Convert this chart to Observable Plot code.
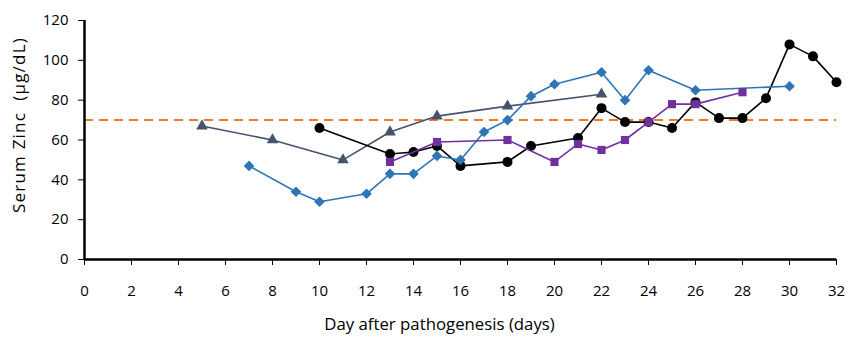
<!DOCTYPE html>
<html><head><meta charset="utf-8">
<script src="https://cdn.jsdelivr.net/npm/d3@7"></script>
<script src="https://cdn.jsdelivr.net/npm/@observablehq/plot@0.6"></script>
<style>body{margin:0;background:#fff}</style>
</head><body><div id="chart"></div>
<script>
const xTicks = [0,2,4,6,8,10,12,14,16,18,20,22,24,26,28,30,32];
const yTicks = [0,20,40,60,80,100,120];
const threshold = 70;

const triDays = [5,8,11,13,15,18,22];
const triZinc = [67,60,50,64,72,77,83];

const diaDays = [7,9,10,12,13,14,15,16,17,18,19,20,22,23,24,26,30];
const diaZinc = [47,34,29,33,43,43,52,50,64,70,82,88,94,80,95,85,87];

const cirDays = [10,13,14,15,16,18,19,21,22,23,24,25,26,27,28,29,30,31,32];
const cirZinc = [66,53,54,57,47,49,57,61,76,69,69,66,79,71,71,81,108,102,89];

const sqDays = [13,15,18,20,21,22,23,24,25,26,28];
const sqZinc = [49,59,60,49,58,55,60,69,78,78,84];

const xLabel = "Day after pathogenesis (days)";
const yLabel = "Serum Zinc  (µg/dL)";

const toRows = (days, vals) => days.map((d, i) => ({day: d, zinc: vals[i]}));
const tri = toRows(triDays, triZinc);
const dia = toRows(diaDays, diaZinc);
const cir = toRows(cirDays, cirZinc);
const sq = toRows(sqDays, sqZinc);

const cTri = "#44546a", cDia = "#2e75b6", cCir = "#000000", cSq = "#7030a0", cRef = "#f07a2a";

function series(rows, color, symbol, r, sw) {
  return [
    Plot.line(rows, {x: "day", y: "zinc", stroke: color, strokeWidth: sw}),
    Plot.dot(rows, {x: "day", y: "zinc", fill: color, stroke: "none", symbol, r})
  ];
}

const chart = Plot.plot({
  width: 847, height: 341,
  marginLeft: 84, marginRight: 11, marginTop: 20, marginBottom: 82,
  style: {fontFamily: "'Open Sans', sans-serif", fontSize: "15px", color: "#000", background: "#fff"},
  x: {domain: [0, 32], ticks: xTicks, tickSize: 6, tickPadding: 20, label: null},
  y: {domain: [0, 120], ticks: yTicks, tickSize: 6, tickPadding: 10, label: null},
  marks: [
    Plot.ruleY([threshold], {stroke: cRef, strokeWidth: 2, strokeDasharray: "9,6"}),
    ...series(tri, cTri, "triangle", 4.3, 1.6),
    ...series(cir, cCir, "circle", 5, 1.6),
    ...series(dia, cDia, "diamond2", 4.8, 1.6),
    ...series(sq, cSq, "square", 4.6, 1.6),
    Plot.ruleX([0], {stroke: "#000", strokeWidth: 2.5}),
    Plot.ruleY([0], {stroke: "#000", strokeWidth: 2.5}),
    Plot.text([xLabel], {frameAnchor: "bottom", dy: 70, dx: -21, text: d => d, fontSize: 16.8, textAnchor: "middle"}),
    Plot.text([yLabel], {frameAnchor: "left", dx: -65, dy: -15, rotate: -90, text: d => d, fontSize: 17, textAnchor: "middle"})
  ]
});
d3.select(chart).selectAll("text").filter(function() { return this.textContent === yLabel; })
  .attr("letter-spacing", "1.2px");
document.getElementById("chart").appendChild(chart);
</script>
</body></html>
